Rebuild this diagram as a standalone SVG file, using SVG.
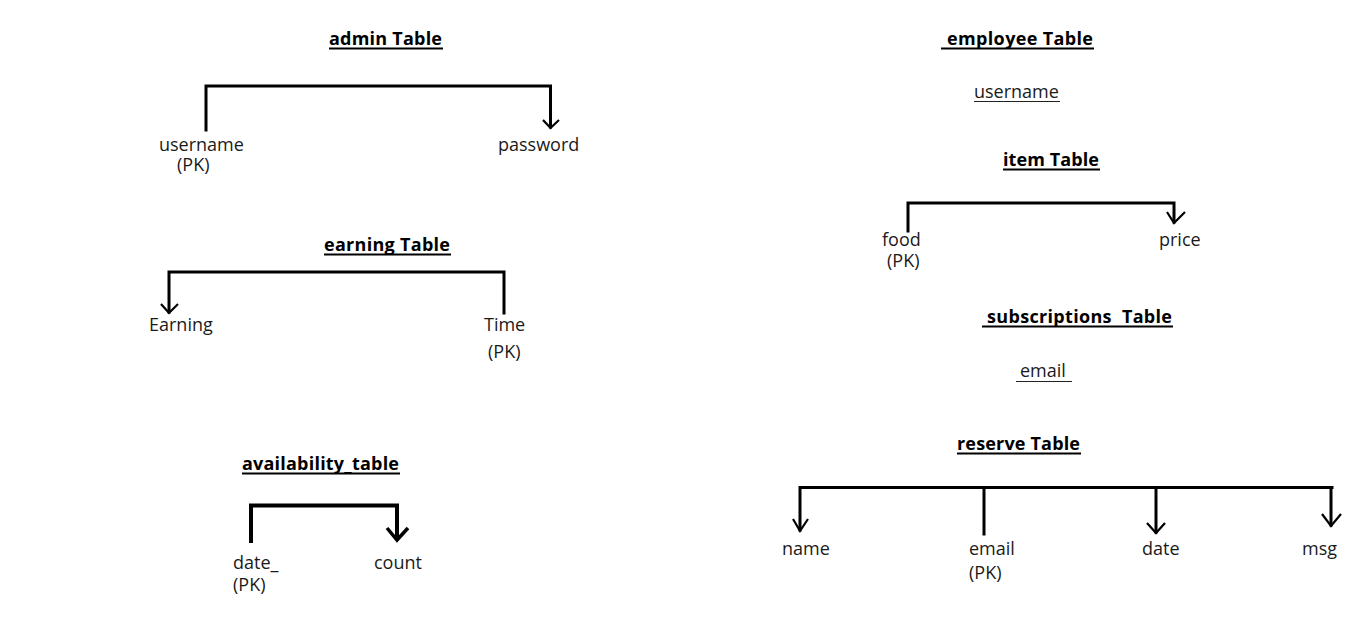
<svg xmlns="http://www.w3.org/2000/svg" width="1350" height="629" viewBox="0 0 1350 629">
<style>
.t{font-family:"Open Sans","Noto Sans","Liberation Sans",sans-serif;font-size:18px;font-weight:bold;fill:#000;white-space:pre}
.f{font-family:"Open Sans","Noto Sans","Liberation Sans",sans-serif;font-size:18px;fill:#1a1a1a;white-space:pre}
.ul{stroke:#000;stroke-width:2}
.ulf{stroke:#222;stroke-width:1.2}
.c{stroke:#000;stroke-width:3;fill:none;stroke-linecap:square}
.a{stroke:#000;stroke-width:2.2;fill:none;stroke-linejoin:miter}
</style>
<rect width="1350" height="629" fill="#fff"/>

<g id="admin">
<text class="t" x="329" y="45" textLength="113" lengthAdjust="spacing">admin Table</text>
<line class="ul" x1="329" y1="48.5" x2="443" y2="48.5"/>
<text class="f" x="159" y="151">username</text>
<text class="f" x="177" y="171">(PK)</text>
<text class="f" x="498" y="151">password</text>
</g>

<g id="earning">
<text class="t" x="324" y="251" textLength="126" lengthAdjust="spacing">earning Table</text>
<line class="ul" x1="324" y1="254.5" x2="451" y2="254.5"/>
<text class="f" x="149" y="331">Earning</text>
<text class="f" x="484" y="331">Time</text>
<text class="f" x="488" y="358">(PK)</text>
</g>

<g id="availability">
<text class="t" x="242" y="470" textLength="157" lengthAdjust="spacing">availability_table</text>
<line class="ul" x1="242" y1="473.5" x2="400" y2="473.5"/>
<text class="f" x="233" y="569">date_</text>
<text class="f" x="233" y="591">(PK)</text>
<text class="f" x="374" y="569">count</text>
</g>

<g id="employee">
<text class="t" x="947" y="45" textLength="146" lengthAdjust="spacing">employee Table</text>
<line class="ul" x1="941" y1="48.5" x2="1094" y2="48.5"/>
<text class="f" x="974" y="98">username</text>
<line class="ulf" x1="974" y1="101.5" x2="1060" y2="101.5"/>
</g>

<g id="item">
<text class="t" x="1003" y="166" textLength="96" lengthAdjust="spacing">item Table</text>
<line class="ul" x1="1003" y1="169.5" x2="1100" y2="169.5"/>
<text class="f" x="882" y="246">food</text>
<text class="f" x="887" y="267">(PK)</text>
<text class="f" x="1159" y="246">price</text>
</g>

<g id="subscriptions">
<text class="t" x="987" y="323" textLength="185" lengthAdjust="spacing">subscriptions  Table</text>
<line class="ul" x1="982" y1="326.5" x2="1173" y2="326.5"/>
<text class="f" x="1020" y="377">email</text>
<line class="ulf" x1="1016" y1="381.5" x2="1072" y2="381.5"/>
</g>

<g id="reserve">
<text class="t" x="957" y="450" textLength="123" lengthAdjust="spacing">reserve Table</text>
<line class="ul" x1="957" y1="453.5" x2="1081" y2="453.5"/>
<text class="f" x="782" y="555">name</text>
<text class="f" x="969" y="555">email</text>
<text class="f" x="969" y="579">(PK)</text>
<text class="f" x="1142" y="555">date</text>
<text class="f" x="1302" y="555">msg</text>
</g>

<g id="connectors">
<path class="c" d="M206,130 V86 H550.5 V127"/>
<path class="a" d="M543,120 L550.5,128 L559,120"/>
<path class="c" d="M169,312 V272 H504 V313"/>
<path class="a" d="M161,304 L169,313 L178,304"/>
<path class="c" d="M251,541 V505.5 H397 V538" style="stroke-width:4"/>
<path class="a" d="M387,528 L397,540 L408,528" style="stroke-width:3.5"/>
<path class="c" d="M908,231 V203 H1174 V222"/>
<path class="a" d="M1167,212 L1174,223 L1185,212"/>
<path class="c" d="M800,530 V487.5 H1332"/>
<path class="a" d="M793,519 L800,531 L808,519"/>
<line class="c" x1="984" y1="487.5" x2="984" y2="534"/>
<line class="c" x1="1156" y1="487.5" x2="1156" y2="532"/>
<path class="a" d="M1147,523 L1156,533 L1165,523"/>
<line class="c" x1="1331" y1="487.5" x2="1331" y2="525"/>
<path class="a" d="M1322,514 L1331,526 L1341,514"/>
</g>
</svg>
